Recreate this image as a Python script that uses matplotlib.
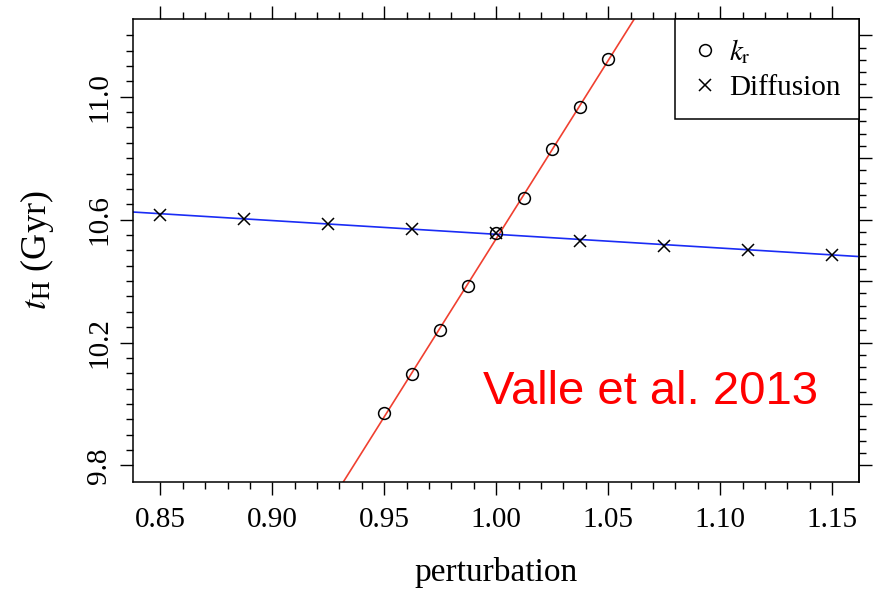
import matplotlib
matplotlib.use('Agg')
import matplotlib.pyplot as plt
from matplotlib.lines import Line2D
import numpy as np

# k_r perturbation (circles)
kr_x = [0.95, 0.9625, 0.975, 0.9875, 1.0, 1.0125, 1.025, 1.0375, 1.05]
kr_t = [9.969, 10.096, 10.242, 10.385, 10.558, 10.672, 10.831, 10.967, 11.124]

# diffusion perturbation (crosses)
diff_x = [0.85, 0.8875, 0.925, 0.9625, 1.0, 1.0375, 1.075, 1.1125, 1.15]
diff_t = [10.616, 10.603, 10.587, 10.571, 10.558, 10.532, 10.515, 10.502, 10.486]

x_ticks = [0.85, 0.90, 0.95, 1.00, 1.05, 1.10, 1.15]
y_ticks = [9.8, 10.2, 10.6, 11.0]

plt.rcParams['font.family'] = ['Liberation Serif', 'DejaVu Serif']
plt.rcParams['mathtext.fontset'] = 'stix'

fig = plt.figure(figsize=(8.77, 5.89), dpi=100)
ax = fig.add_axes([0.1522, 0.1817, 0.8273, 0.786])

red = '#f04030'
blue = '#1a2cf5'

# straight line fits through each set
m1, b1 = np.polyfit(kr_x, kr_t, 1)
m2, b2 = np.polyfit(diff_x, diff_t, 1)
ax.axline((1.0, m1 + b1), slope=m1, color=red, lw=1.2, zorder=2)
ax.axline((1.0, m2 + b2), slope=m2, color=blue, lw=1.2, zorder=2)

ax.plot(kr_x, kr_t, 'o', mfc='none', mec='black', ms=8.5, mew=1.1, zorder=3)
ax.plot(diff_x, diff_t, 'x', color='black', ms=8.0, mew=1.1, zorder=3)

ax.set_xlim(0.838, 1.162)
ax.set_ylim(9.746, 11.253)

ax.set_xticks(x_ticks)
ax.set_xticklabels(['%.2f' % v for v in x_ticks])
ax.set_xticks(np.arange(0.85, 1.1501, 0.01), minor=True)
ax.set_yticks(y_ticks)
ax.set_yticklabels(['%.1f' % v for v in y_ticks], rotation=90, va='center')
ax.set_yticks(np.arange(9.8, 11.2001, 0.05), minor=True)

ax.tick_params(which='both', direction='out', width=1.0, labelsize=21, top=True)
ax.tick_params(which='major', length=9.3)
ax.tick_params(which='minor', length=5)
ax.tick_params(axis='x', pad=9)
ax.tick_params(axis='y', pad=6)

# right axis has its own tick spacing
sec = ax.secondary_yaxis('right')
sec.set_yticks(np.arange(9.8, 11.2001, 0.2))
sec.set_yticks(np.arange(9.8, 11.2001, 0.04), minor=True)
sec.tick_params(which='both', direction='out', width=1.0, labelright=False)
sec.tick_params(which='major', length=9.3)
sec.tick_params(which='minor', length=5)

for s in ax.spines.values():
    s.set_linewidth(1.1)
sec.spines['right'].set_linewidth(1.1)

ax.set_xlabel('perturbation', fontsize=24)
ax.xaxis.set_label_coords(0.5, -0.162)
ax.set_ylabel(r'$t_{\rm H}$ (Gyr)', fontsize=26)
ax.yaxis.set_label_coords(-0.107, 0.5)

handles = [Line2D([], [], ls='none', marker='o', mfc='none', mec='black', ms=8.5, mew=1.1),
           Line2D([], [], ls='none', marker='x', color='black', ms=8.0, mew=1.1)]
leg = ax.legend(handles, [r'$k_{\rm r}$', 'Diffusion'], loc='upper right',
                bbox_to_anchor=(1, 1), borderaxespad=0, fancybox=False,
                edgecolor='black', framealpha=1, fontsize=21,
                handlelength=0.8, handletextpad=0.45, borderpad=0.62,
                labelspacing=0.3)
leg.get_frame().set_linewidth(1.1)

fig.text(0.5504, 0.3136, 'Valle et al. 2013', color='red', fontsize=34,
         family='Liberation Sans', ha='left', va='baseline')

fig.savefig('out.png', dpi=100)
